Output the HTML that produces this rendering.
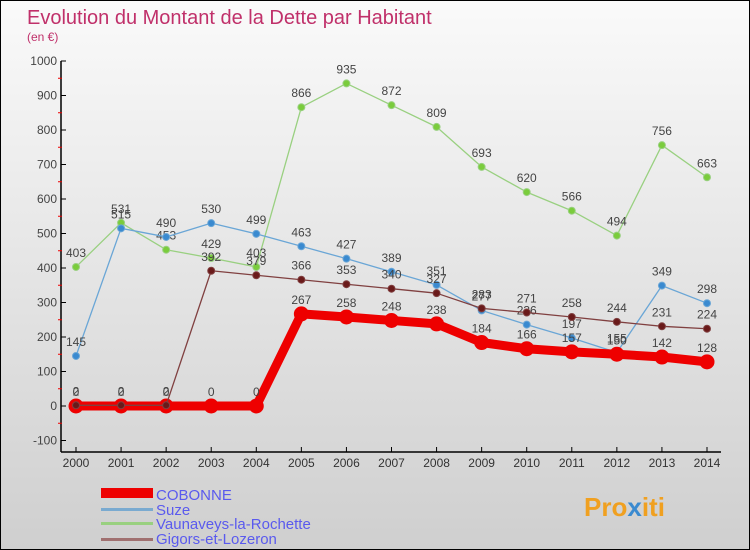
<!DOCTYPE html>
<html><head><meta charset="utf-8"><style>
body{margin:0}
#c{width:750px;height:550px;position:relative;overflow:hidden;background:linear-gradient(#fafafa,#cfcfcf);font-family:"Liberation Sans",sans-serif;box-sizing:border-box;border:1px solid #000}
</style></head><body>
<div id="c">
<svg id="s" width="750" height="550" style="position:absolute;left:0;top:0">
<text x="26" y="23" font-size="20" fill="#c0306a">Evolution du Montant de la Dette par Habitant</text>
<text x="26" y="40" font-size="12" fill="#c0306a">(en €)</text>
<g id="ax"></g><g id="ser"></g>
<g>
<rect x="100" y="487" width="52" height="10" fill="#e00"/>
<text x="155" y="499" font-size="15" fill="#5a5aee">COBONNE</text>
<rect x="100" y="507" width="52" height="3" fill="#7aaad0"/>
<text x="155" y="514" font-size="15" fill="#5a5aee">Suze</text>
<rect x="100" y="521" width="52" height="3" fill="#99d080"/>
<text x="155" y="528" font-size="15" fill="#5a5aee">Vaunaveys-la-Rochette</text>
<rect x="100" y="537" width="52" height="3" fill="#a07070"/>
<text x="155" y="543" font-size="15" fill="#5a5aee">Gigors-et-Lozeron</text>
</g>
<text x="583" y="515" font-size="26" font-weight="bold" fill="#f0a020">Pro<tspan fill="#3a8ad0">x</tspan>iti</text>
</svg>
</div>
<script>
const years=[2000,2001,2002,2003,2004,2005,2006,2007,2008,2009,2010,2011,2012,2013,2014];
const cobonne=[0,0,0,0,0,267,258,248,238,184,166,157,150,142,128];
const suze=[145,515,490,530,499,463,427,389,351,277,236,197,155,349,298];
const vaunaveys=[403,531,453,429,403,866,935,872,809,693,620,566,494,756,663];
const gigors=[2,2,2,392,379,366,353,340,327,283,271,258,244,231,224];
const yTicks=[-100,0,100,200,300,400,500,600,700,800,900,1000];
const NS="http://www.w3.org/2000/svg";
function X(i){return 75+i*(706-75)/(years.length-1);}
function Y(v){return 405-0.345*v;}
function mk(t,a,p){const e=document.createElementNS(NS,t);for(const k in a)e.setAttribute(k,a[k]);p.appendChild(e);return e;}
const ax=document.getElementById('ax'),ser=document.getElementById('ser');
let l=mk('line',{x1:60,y1:Y(1000),x2:60,y2:451,stroke:'#000','stroke-width':1.5},ax);


l=mk('line',{x1:60,y1:451,x2:720,y2:451,stroke:'#000','stroke-width':1.5},ax);


yTicks.forEach(v=>{
 mk('line',{x1:60,y1:Y(v),x2:65,y2:Y(v),stroke:'#000'},ax);
 if(v<1000) mk('line',{x1:57,y1:Y(v+50),x2:61,y2:Y(v+50),stroke:'#e00'},ax);
 const t=mk('text',{x:56,y:Y(v)+4,'font-size':12,fill:'#444','text-anchor':'end'},ax);t.textContent=v;
 
 
});
years.forEach((y,i)=>{
 mk('line',{x1:X(i),y1:451,x2:X(i),y2:446,stroke:'#000'},ax);
 const t=mk('text',{x:X(i),y:466,'font-size':12,fill:'#333','text-anchor':'middle'},ax);t.textContent=y;
 
 
});
function draw(d,name,col,w,r,dot){
 const g=mk('g',{},ser);
 
 
 mk('polyline',{points:d.map((v,i)=>X(i)+','+Y(v)).join(' '),fill:'none',stroke:col,'stroke-width':w,'stroke-linejoin':'round'},g);
 d.forEach((v,i)=>{
  const c=mk('circle',{cx:X(i),cy:Y(v),r:r,fill:dot,stroke:col,'stroke-width':1},g);
  
  
  const t=mk('text',{x:X(i),y:Y(v)-10,'font-size':12,fill:'#444','text-anchor':'middle'},g);t.textContent=v;
 });
}
draw(vaunaveys,'vaunaveys','#99d080',1.3,3.5,'#7acc3c');
draw(suze,'suze','#6aa6d6',1.3,3.5,'#3a8ad0');
draw(cobonne,'cobonne','#e00',9,7,'#e00');
draw(gigors,'gigors','#804040',1.3,3.5,'#6a1a1a');
</script>
</body></html>
